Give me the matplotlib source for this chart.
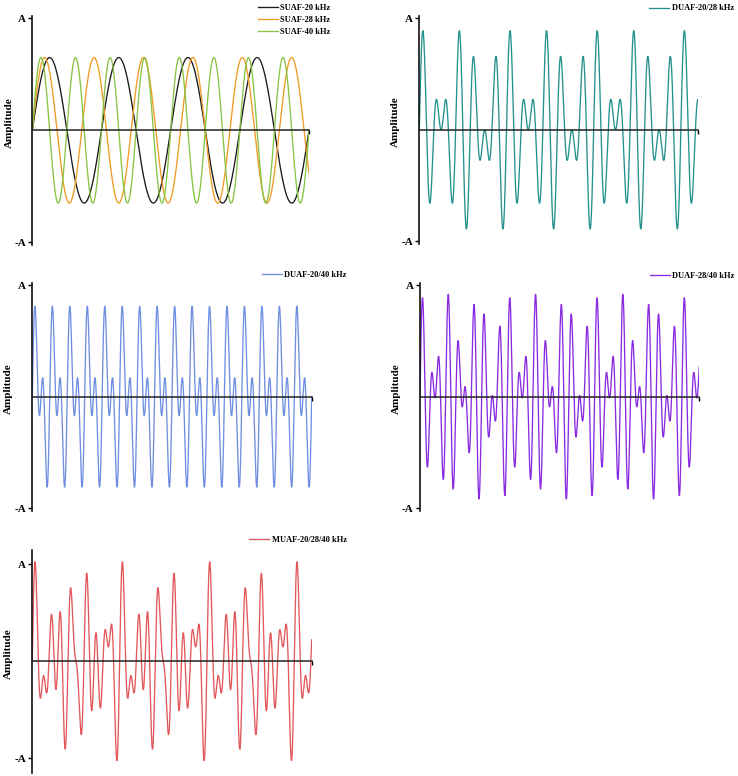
import numpy as np
import matplotlib
matplotlib.use("Agg")
import matplotlib.pyplot as plt

# --- DATA ---
# frequencies (kHz) of each wave, one list per panel
SUAF_FREQS = [20, 28, 40]
DUAF_20_28_FREQS = [20, 28]
DUAF_20_40_FREQS = [20, 40]
DUAF_28_40_FREQS = [28, 40]
MUAF_FREQS = [20, 28, 40]
# amplitude of each component, relative to A
AMP_SINGLE = 0.65
AMP_DUAL = 0.46
AMP_MULTI = 0.375
# time window shown (microseconds)
SPAN_SINGLE_US = 200
SPAN_MULTI_US = 800

SUAF_LABELS = ["SUAF-20 kHz", "SUAF-28 kHz", "SUAF-40 kHz"]
SUAF_COLORS = ["#1a1a1a", "#f29a25", "#86c441"]

# --- LAYOUT (pixels) ---
W, H = 738, 776
DPI = 100


def px_axes(fig, x0, x1, y_top, y_bot):
    return fig.add_axes([x0 / W, 1 - y_bot / H, (x1 - x0) / W, (y_bot - y_top) / H])


def style_axes(ax, t_end, ylim, label_shift):
    ax.set_xlim(0, t_end)
    ax.set_ylim(-ylim, ylim)
    for s in ["top", "right"]:
        ax.spines[s].set_visible(False)
    ax.spines["left"].set_linewidth(1.2)
    ax.spines["left"].set_color("#111111")
    ax.spines["bottom"].set_position(("data", 0))
    ax.spines["bottom"].set_linewidth(1.1)
    ax.spines["bottom"].set_color("#222222")
    ax.spines["bottom"].set_zorder(5)
    ax.set_xticks([t_end])
    ax.set_xticklabels([""])
    ax.set_yticks([-1, 1])
    ax.set_yticklabels(["-A", "A"], fontfamily="Liberation Serif",
                       fontweight="bold", fontsize=8)
    ax.tick_params(axis="both", direction="out", length=3, width=1.0, pad=1.5)
    ax.set_ylabel("Amplitude", fontfamily="Liberation Serif",
                  fontweight="bold", fontsize=8)
    ax.yaxis.set_label_coords(-0.068, 0.5 + label_shift)


def add_legend(ax, fig, x, y):
    leg = ax.legend(loc="upper left", bbox_to_anchor=(x / W, 1 - y / H),
                    bbox_transform=fig.transFigure, frameon=False,
                    borderpad=0, borderaxespad=0, handlelength=2.4,
                    handletextpad=0.3, labelspacing=0.45,
                    prop={"family": "Liberation Serif", "weight": "bold", "size": 6})
    return leg


def wave(t_us, freqs, amp):
    y = np.zeros_like(t_us)
    for f in freqs:
        y += amp * np.sin(2 * np.pi * f * 1e-3 * t_us)
    return y


fig = plt.figure(figsize=(W / DPI, H / DPI), dpi=DPI)

# panel 1: single frequency waves
ax1 = px_axes(fig, 32.3, 309, 16.1, 244.5)
t1 = np.linspace(0, SPAN_SINGLE_US, 3000)
for f, lab, col in zip(SUAF_FREQS, SUAF_LABELS, SUAF_COLORS):
    ax1.plot(t1, wave(t1, [f], AMP_SINGLE), color=col, lw=0.95, label=lab)
style_axes(ax1, SPAN_SINGLE_US, 1.02, 8 / 228)
add_legend(ax1, fig, 258, 4.3)

t2 = np.linspace(0, SPAN_MULTI_US, 6000)

# panel 2: dual 20/28
ax2 = px_axes(fig, 419.3, 698.3, 16.1, 243.5)
ax2.plot(t2, wave(t2, DUAF_20_28_FREQS, AMP_DUAL), color="#23928a", lw=0.95,
         label="DUAF-20/28 kHz")
style_axes(ax2, SPAN_MULTI_US, 1.02, 8 / 227)
add_legend(ax2, fig, 649, 4.5)

# panel 3: dual 20/40
ax3 = px_axes(fig, 32.3, 311.7, 282.8, 510.6)
ax3.plot(t2, wave(t2, DUAF_20_40_FREQS, AMP_DUAL), color="#6f8fe0", lw=0.95,
         label="DUAF-20/40 kHz")
style_axes(ax3, SPAN_MULTI_US, 1.02, 8 / 228)
add_legend(ax3, fig, 262, 271)

# panel 4: dual 28/40
ax4 = px_axes(fig, 420, 699.3, 282.8, 510.6)
ax4.plot(t2, wave(t2, DUAF_28_40_FREQS, AMP_DUAL), color="#8a2be2", lw=0.95,
         label="DUAF-28/40 kHz")
style_axes(ax4, SPAN_MULTI_US, 1.02, 8 / 228)
add_legend(ax4, fig, 650, 272)

# panel 5: multi 20/28/40
ax5 = px_axes(fig, 32.3, 311.7, 549.8, 772.6)
ax5.plot(t2, wave(t2, MUAF_FREQS, AMP_MULTI), color="#e2585c", lw=0.95,
         label="MUAF-20/28/40 kHz")
style_axes(ax5, SPAN_MULTI_US, 1.15, 8 / 223)
add_legend(ax5, fig, 249, 536)

fig.savefig("out.png", dpi=DPI)
